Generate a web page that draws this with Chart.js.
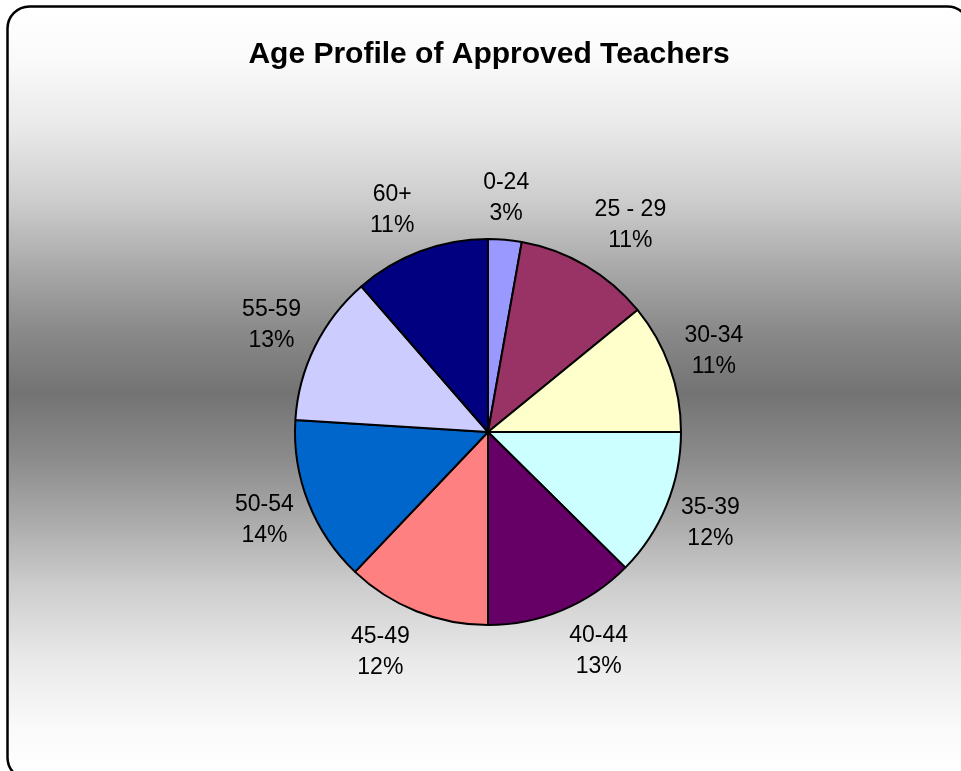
<!DOCTYPE html>
<html>
<head>
<meta charset="utf-8">
<script src="https://cdn.jsdelivr.net/npm/chart.js@4"></script>
<style>
  html, body { margin: 0; padding: 0; background: #fff; }
  #wrap { width: 961px; height: 771px; position: relative; }
</style>
</head>
<body>
<div id="wrap"><canvas id="ageChart" width="961" height="771"></canvas></div>
<script>
const title = "Age Profile of Approved Teachers";
const ageGroups = ["0-24", "25 - 29", "30-34", "35-39", "40-44", "45-49", "50-54", "55-59", "60+"];
const shares = [2.8, 11.3, 10.9, 12.4, 12.6, 12.1, 13.9, 12.6, 11.4];
const sliceColors = ["#9999FF", "#993366", "#FFFFCC", "#CCFFFF", "#660066", "#FF8080", "#0066CC", "#CCCCFF", "#000080"];

// background: rounded frame with a vertical grey band
const bgPlugin = {
  id: "frameBg",
  beforeDraw(chart) {
    const ctx = chart.ctx;
    const x = 7.5, y = 6.5, w = 962, h = 773, r = 22;
    const g = ctx.createLinearGradient(0, y, 0, y + h);
    const stops = [[7, "#ffffff"], [60, "#fafafa"], [130, "#e8e8e8"], [200, "#cdcdcd"], [270, "#a8a8a8"],
      [330, "#8a8a8a"], [393, "#737373"], [456, "#8a8a8a"], [516, "#a8a8a8"], [586, "#cdcdcd"],
      [656, "#e8e8e8"], [726, "#fafafa"], [780, "#ffffff"]];
    stops.forEach(([sy, c]) => g.addColorStop(Math.min(1, Math.max(0, (sy - y) / h)), c));
    ctx.save();
    ctx.beginPath();
    ctx.roundRect(x, y, w, h, r);
    ctx.fillStyle = g;
    ctx.fill();
    ctx.lineWidth = 2.5;
    ctx.strokeStyle = "#000";
    ctx.stroke();
    ctx.fillStyle = "#000";
    ctx.font = "bold 30px 'Liberation Sans', Arial, sans-serif";
    ctx.textAlign = "center";
    ctx.textBaseline = "middle";
    ctx.fillText(title, 489, 55);
    ctx.restore();
  }
};

// outside labels: category + rounded percent
const labelPlugin = {
  id: "outsideLabels",
  afterDatasetsDraw(chart) {
    const ctx = chart.ctx;
    const meta = chart.getDatasetMeta(0);
    const total = shares.reduce((a, b) => a + b, 0);
    ctx.save();
    ctx.font = "23px 'Liberation Sans', Arial, sans-serif";
    ctx.fillStyle = "#000";
    ctx.textAlign = "center";
    ctx.textBaseline = "middle";
    const lineH = 31;
    meta.data.forEach((arc, i) => {
      const p = arc.getProps(["x", "y", "startAngle", "endAngle", "outerRadius"], true);
      const mid = (p.startAngle + p.endAngle) / 2;
      const ux = Math.cos(mid), uy = Math.sin(mid);
      const lines = [ageGroups[i], Math.round(shares[i] / total * 100) + "%"];
      const hw = Math.max(...lines.map(l => ctx.measureText(l).width)) / 2;
      const hh = lineH;
      const R = p.outerRadius + 14;
      const sx = Math.sign(ux) * Math.min(1.05, Math.max(0, (Math.abs(ux) - 0.1) * 4.5));
      const sy = Math.max(-1, Math.min(1, uy * 1.2));
      const cx = p.x + ux * R + sx * hw;
      const cy = p.y + uy * R + sy * hh * 0.9;
      ctx.fillText(lines[0], cx, cy - lineH / 2);
      ctx.fillText(lines[1], cx, cy + lineH / 2);
    });
    ctx.restore();
  }
};

new Chart(document.getElementById("ageChart"), {
  type: "pie",
  data: {
    labels: ageGroups,
    datasets: [{
      data: shares,
      backgroundColor: sliceColors,
      borderColor: "#000",
      borderWidth: 2,
      borderAlign: "center"
    }]
  },
  options: {
    responsive: false,
    animation: false,
    layout: { padding: { left: 294, right: 279, top: 238, bottom: 145 } },
    plugins: {
      legend: { display: false },
      title: { display: false },
      tooltip: { enabled: false }
    }
  },
  plugins: [bgPlugin, labelPlugin]
});
</script>
</body>
</html>
